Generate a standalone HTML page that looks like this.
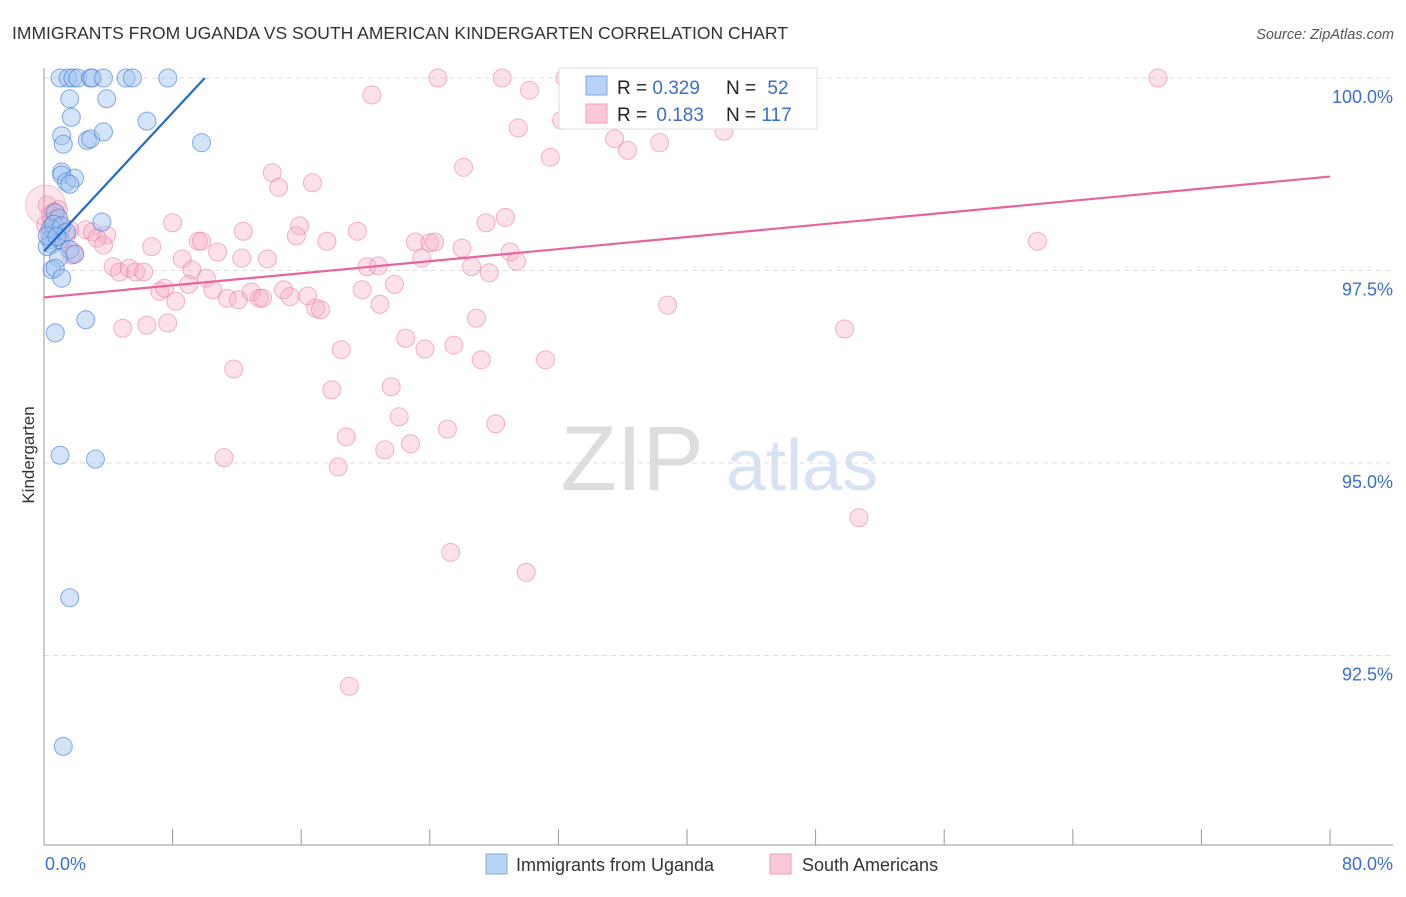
<!DOCTYPE html>
<html><head><meta charset="utf-8"><style>
body{margin:0;background:#fff;font-family:"Liberation Sans",sans-serif;}
svg text{font-family:"Liberation Sans",sans-serif;}
</style></head><body>
<svg id="chart" width="1406" height="892" viewBox="0 0 1406 892" xmlns="http://www.w3.org/2000/svg">
<text x="12" y="39" font-size="17.5" fill="#333">IMMIGRANTS FROM UGANDA VS SOUTH AMERICAN KINDERGARTEN CORRELATION CHART</text>
<text x="1394" y="39" font-size="14.5" fill="#555" font-style="italic" text-anchor="end">Source: ZipAtlas.com</text>
<text transform="translate(34,455) rotate(-90)" font-size="17" fill="#333" text-anchor="middle">Kindergarten</text>
<g>
<text x="632" y="490" font-size="92" fill="#ddd" text-anchor="middle" font-family="Liberation Serif">ZIP</text>
<text x="802" y="490" font-size="72" fill="#d6e3f5" text-anchor="middle">atlas</text>
</g>
<g id="grid"></g><g id="axes"></g><g id="marks"></g>
<g>
<rect x="559" y="68" width="258" height="61" fill="#fff" stroke="#ddd"/>
<rect x="586" y="76" width="21" height="19" fill="#b9d3f5" stroke="#7fa9e6"/>
<rect x="586" y="104" width="21" height="19" fill="#fac9d8" stroke="#ef9fb8"/>
<text x="617" y="94" font-size="19" fill="#222">R = <tspan fill="#3a6fd0">0.329</tspan></text>
<text x="726" y="94" font-size="19" fill="#222">N = <tspan fill="#3a6fd0" dx="6">52</tspan></text>
<text x="617" y="121" font-size="19" fill="#222">R = <tspan fill="#3a6fd0" dx="4">0.183</tspan></text>
<text x="726" y="121" font-size="19" fill="#222">N = <tspan fill="#3a6fd0">117</tspan></text>
</g>
<g>
<rect x="486" y="854" width="21" height="20" fill="#b9d3f5" stroke="#7fa9e6"/>
<text x="516" y="871" font-size="18" fill="#333">Immigrants from Uganda</text>
<rect x="770" y="854" width="21" height="20" fill="#fac9d8" stroke="#ef9fb8"/>
<text x="802" y="871" font-size="18" fill="#333">South Americans</text>
</g>
</svg>
<script>
const ugandaX=[1.0,1.5,1.8,2.1,2.9,3.0,3.7,5.1,5.5,7.7,1.6,3.9,1.7,6.4,1.1,1.2,2.7,2.9,3.7,9.8,1.1,1.1,1.4,1.9,1.6,0.7,0.9,3.6,0.6,0.7,0.4,0.5,1.0,0.2,1.6,1.9,0.9,0.5,0.7,1.1,2.6,0.7,1.0,3.2,1.6,1.2,0.4,0.6,1.1,1.4,0.2,0.8];
const ugandaY=[100,100,100,100,100,100,100,100,100,100,99.73,99.73,99.49,99.44,99.25,99.14,99.19,99.21,99.30,99.16,98.78,98.74,98.65,98.70,98.62,98.25,98.18,98.13,98.03,97.99,97.90,97.84,97.90,97.81,97.77,97.71,97.66,97.51,97.53,97.40,96.86,96.69,95.10,95.05,93.25,91.32,98.05,98.10,98.08,98.00,97.95,97.94];
const southX=[24.5,28.5,32.7,69.3,30.2,20.4,39.0,42.2,29.5,32.2,35.5,36.3,38.3,42.3,31.5,26.1,14.2,14.6,16.7,28.7,27.5,8.0,15.9,12.4,19.5,0.9,0.7,1.1,1.6,2.6,3.0,3.9,3.3,3.7,1.9,1.7,6.7,9.6,9.8,15.7,17.6,23.1,24.0,24.3,26.0,29.0,10.8,8.6,12.3,13.9,23.5,29.4,4.3,4.7,5.3,5.7,6.2,9.2,10.1,20.1,20.8,26.6,27.7,7.2,7.5,9.0,10.5,11.4,12.1,12.9,13.4,13.6,14.9,15.3,16.4,16.9,17.2,19.8,20.9,21.8,8.2,38.8,26.9,4.9,6.4,7.7,22.5,23.7,25.5,27.2,31.2,18.5,49.8,11.8,17.9,21.6,61.8,22.1,18.8,28.1,25.1,22.8,21.2,11.2,18.3,50.7,25.3,30.0,19.0,0.2,0.4,0.1,1.0,1.4,0.6,32.4,0.3];
const southY=[100,100,100,100,99.84,99.78,99.58,99.74,99.35,99.45,99.21,99.06,99.16,99.31,98.97,98.84,98.77,98.58,98.64,98.19,98.12,98.12,98.08,98.01,98.01,98.29,98.16,98.05,98.03,98.03,98.00,97.96,97.92,97.83,97.73,97.70,97.81,97.88,97.88,97.95,97.88,97.87,97.86,97.87,97.79,97.74,97.74,97.65,97.66,97.65,97.66,97.62,97.55,97.48,97.53,97.48,97.48,97.51,97.40,97.55,97.56,97.55,97.47,97.23,97.27,97.32,97.25,97.14,97.12,97.22,97.14,97.14,97.25,97.16,97.17,97.01,96.99,97.25,97.06,97.32,97.10,97.05,96.88,96.75,96.79,96.82,96.62,96.48,96.53,96.34,96.34,96.47,96.74,96.22,95.95,95.99,97.88,95.60,95.34,95.51,95.44,95.25,95.17,95.07,94.95,94.29,93.84,93.58,92.10,98.35,98.22,98.09,97.90,97.95,98.26,100,98.0];
const ugandaTrendX=[0,10];const ugandaTrendY=[97.75,100];
const southTrendX=[0,80];const southTrendY=[97.15,98.72];
const yTicks=[100,97.5,95,92.5];
const yTickLabels=["100.0%","97.5%","95.0%","92.5%"];
const xTicks=[0,8,16,24,32,40,48,56,64,72,80];
const xEndLabels=["0.0%","80.0%"];

const NS="http://www.w3.org/2000/svg";
const X0=44,X1=1330,YTOP=78,YPER=192.5/2.5;
function sx(v){return X0+(v/80)*(X1-X0);}
function sy(v){return YTOP+(100-v)*YPER;}
function mk(t,a,p){const e=document.createElementNS(NS,t);for(const k in a)e.setAttribute(k,a[k]);p.appendChild(e);return e;}
const grid=document.getElementById('grid'),axes=document.getElementById('axes'),marks=document.getElementById('marks');
yTicks.forEach((v,i)=>{
 const l=mk('line',{x1:44,x2:1393,y1:sy(v),y2:sy(v),stroke:'#ddd','stroke-dasharray':'5,4'},grid);
 
 
 const t=mk('text',{x:1393,y:sy(v)+25,'font-size':18,fill:'#3a6fd0','text-anchor':'end'},axes);
 t.textContent=yTickLabels[i];
 
 
});
const ya=mk('line',{x1:44,x2:44,y1:68,y2:845,stroke:'#999'},axes);


const xa=mk('line',{x1:44,x2:1393,y1:845,y2:845,stroke:'#999'},axes);


xTicks.forEach(v=>{
 const l=mk('line',{x1:sx(v),x2:sx(v),y1:829,y2:845,stroke:'#999'},axes);
 
 
});
const xl0=mk('text',{x:45,y:870,'font-size':18,fill:'#3a6fd0'},axes);xl0.textContent=xEndLabels[0];


const xl1=mk('text',{x:1393,y:870,'font-size':18,fill:'#3a6fd0','text-anchor':'end'},axes);xl1.textContent=xEndLabels[1];


const big=mk('circle',{cx:sx(0.1),cy:sy(98.35),r:20,fill:'rgba(240,150,180,0.25)',stroke:'rgba(230,120,160,0.4)'},marks);


southX.forEach((x,i)=>{
 const c=mk('circle',{cx:sx(x),cy:sy(southY[i]),r:9,fill:'rgba(246,170,195,0.35)',stroke:'rgba(232,120,160,0.55)','stroke-width':1},marks);
 
 
});
ugandaX.forEach((x,i)=>{
 const c=mk('circle',{cx:sx(x),cy:sy(ugandaY[i]),r:9,fill:'rgba(160,195,240,0.45)',stroke:'rgba(60,120,210,0.6)','stroke-width':1},marks);
 
 
});
const st=mk('line',{x1:sx(southTrendX[0]),y1:sy(southTrendY[0]),x2:sx(southTrendX[1]),y2:sy(southTrendY[1]),stroke:'#e8649a','stroke-width':2.2},marks);


const ut=mk('line',{x1:sx(ugandaTrendX[0]),y1:sy(ugandaTrendY[0]),x2:sx(ugandaTrendX[1]),y2:sy(ugandaTrendY[1]),stroke:'#2468d0','stroke-width':2.2},marks);


</script>
</body></html>
